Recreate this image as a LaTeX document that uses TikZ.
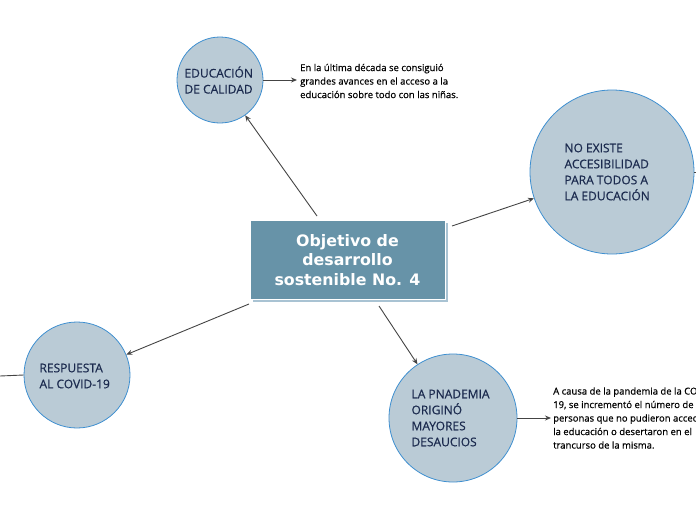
\documentclass[tikz,border=0pt]{standalone}
\usepackage{fontspec}
\setmainfont{Open Sans}
\newfontfamily\semifont{Open Sans}[FakeBold=0.5]
\newfontfamily\boxfont{DejaVu Sans}
\usetikzlibrary{arrows.meta}
\definecolor{circfill}{HTML}{BACBD6}
\definecolor{circline}{HTML}{3E8FD0}
\definecolor{boxfill}{HTML}{6793A8}
\definecolor{boxshadow}{HTML}{A9C3D3}
\definecolor{navy}{HTML}{1B2A4E}
\definecolor{linecol}{HTML}{444444}
\begin{document}
\begin{tikzpicture}[x=1pt,y=-1pt,
  topic/.style={circle,draw=circline,line width=0.8pt,fill=circfill,inner sep=0pt},
  ctext/.style={text=navy,font=\semifont\fontsize{12}{16}\selectfont,align=left,anchor=west},
  note/.style={text=black,font=\semifont\fontsize{9.5}{13.5}\selectfont,align=left,anchor=west,inner sep=0pt},
  conn/.style={draw=linecol,line width=0.9pt,-{Stealth[length=6pt,width=5pt]}},
  plain/.style={draw=linecol,line width=0.9pt}]
\useasboundingbox (0,0) rectangle (696,520);
% central
\fill[boxshadow] (253,223) rectangle (448,302);
\node[draw=white,line width=1pt,fill=boxfill,minimum width=195pt,minimum height=79pt,inner sep=0pt,anchor=north west] (c) at (250,220) {};
\node[text=white,font=\boxfont\bfseries\fontsize{15.8}{19.5}\selectfont,align=center] (ct) at (347.5,260) {Objetivo de\\desarrollo\\sostenible No. 4};
% circles
\node[topic,minimum size=86pt] (e) at (220,80) {};
\node[ctext] (et) at (181,80) {EDUCACIÓN\\DE CALIDAD};
\node[topic,minimum size=164pt] (n) at (612,172) {};
\node[ctext] (nt) at (561,172) {NO EXISTE\\ACCESIBILIDAD\\PARA TODOS A\\LA EDUCACIÓN};
\node[topic,minimum size=128pt] (p) at (453,418) {};
\node[ctext] (pt) at (408,418) {LA PNADEMIA\\ORIGINÓ\\MAYORES\\DESAUCIOS};
\node[topic,minimum size=106pt] (r) at (77,375) {};
\node[ctext] (rt) at (36,376) {RESPUESTA\\AL COVID-19};
% notes
\node[note] (en) at (300,81) {En la última década se consiguió\\grandes avances en el acceso a la\\educación sobre todo con las niñas.};
\node[note] (pn) at (553,418) {A causa de la pandemia de la COVID-\\19, se incrementó el número de\\personas que no pudieron acceder a\\la educación o desertaron en el\\trancurso de la misma.};
% coordinates for connector ends
\coordinate (c1) at (317,216);
\coordinate (c2) at (452,226);
\coordinate (c3) at (249,304);
\coordinate (c4) at (379,306);
\coordinate (nr) at (696,172);
\coordinate (rl) at (0,376);
\coordinate (ea) at (297,80);
\coordinate (pa) at (551,418);
\draw[conn] (c1) -- (e);
\draw[conn] (c2) -- (n);
\draw[conn] (c3) -- (r);
\draw[conn] (c4) -- (p);
\draw[conn] (e) -- (ea);
\draw[conn] (p) -- (pa);
\draw[plain] (n.east) -- (nr);
\draw[plain] (r.west) -- (rl);
\end{tikzpicture}
\end{document}
